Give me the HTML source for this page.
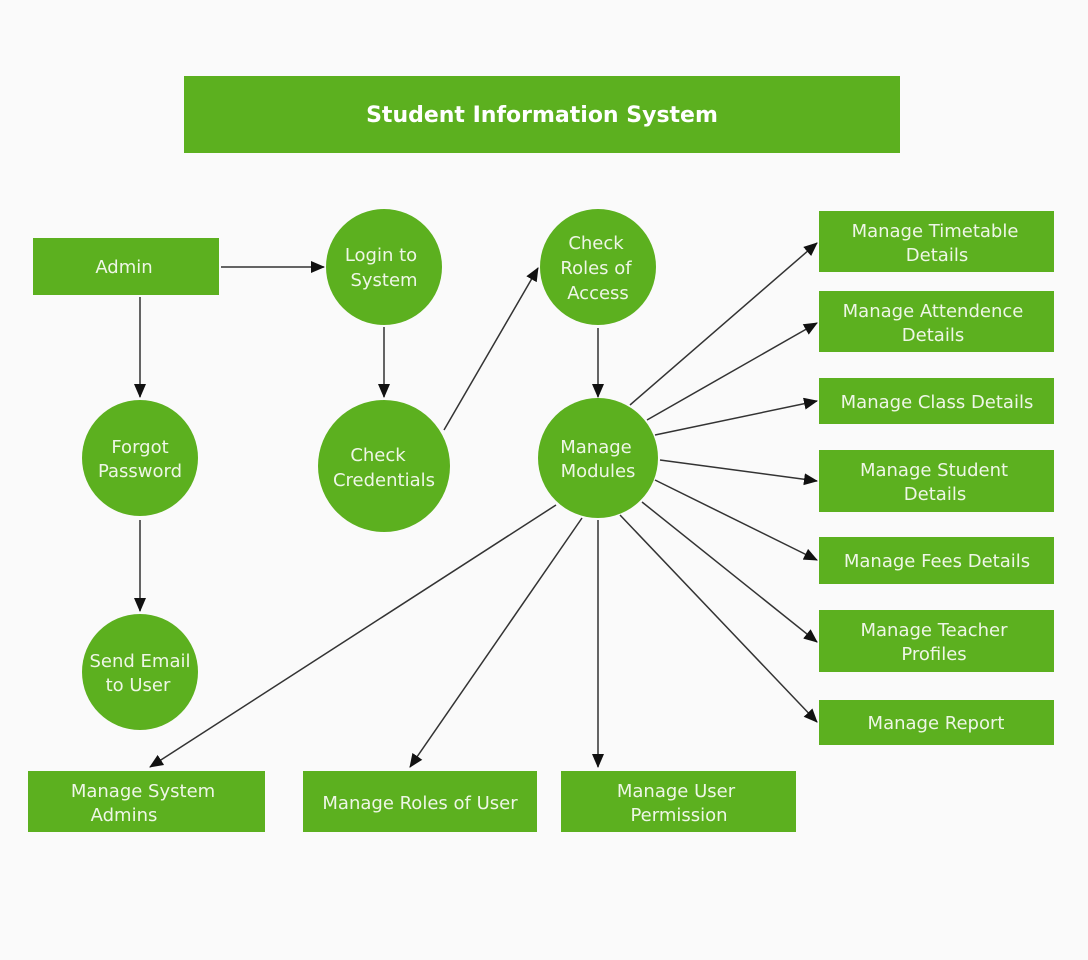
<!DOCTYPE html>
<html><head><meta charset="utf-8"><style>
html,body{margin:0;padding:0;background:#fafafa;}
svg{display:block;}
text{font-family:"DejaVu Sans","Liberation Sans",sans-serif;fill:#eef6e6;font-size:18px;text-anchor:middle;}
</style></head><body>
<svg width="1088" height="960" viewBox="0 0 1088 960" xmlns="http://www.w3.org/2000/svg">
<defs><marker id="a" markerWidth="14" markerHeight="12" refX="13" refY="6" orient="auto" markerUnits="userSpaceOnUse"><path d="M0,0 L14,6 L0,12 z" fill="#111"/></marker></defs>
<g fill="#5cb01f">
<rect x="184" y="76" width="716" height="77"/>
<rect x="33" y="238" width="186" height="57"/>
<circle cx="384" cy="267" r="58"/>
<circle cx="598" cy="267" r="58"/>
<circle cx="140" cy="458" r="58"/>
<circle cx="384" cy="466" r="66"/>
<circle cx="598" cy="458" r="60"/>
<circle cx="140" cy="672" r="58"/>
<rect x="819" y="211" width="235" height="61"/>
<rect x="819" y="291" width="235" height="61"/>
<rect x="819" y="378" width="235" height="46"/>
<rect x="819" y="450" width="235" height="62"/>
<rect x="819" y="537" width="235" height="47"/>
<rect x="819" y="610" width="235" height="62"/>
<rect x="819" y="700" width="235" height="45"/>
<rect x="28" y="771" width="237" height="61"/>
<rect x="303" y="771" width="234" height="61"/>
<rect x="561" y="771" width="235" height="61"/>
</g>
<g stroke="#333" stroke-width="1.5" marker-end="url(#a)">
<line x1="221" y1="267" x2="324" y2="267"/>
<line x1="140" y1="297" x2="140" y2="397"/>
<line x1="384" y1="327" x2="384" y2="397"/>
<line x1="444" y1="430" x2="538" y2="268"/>
<line x1="598" y1="328" x2="598" y2="397"/>
<line x1="140" y1="520" x2="140" y2="611"/>
<line x1="630" y1="405" x2="817" y2="243"/>
<line x1="647" y1="420" x2="817" y2="323"/>
<line x1="655" y1="435" x2="817" y2="401"/>
<line x1="660" y1="460" x2="817" y2="481"/>
<line x1="655" y1="480" x2="817" y2="560"/>
<line x1="642" y1="502" x2="817" y2="642"/>
<line x1="620" y1="515" x2="817" y2="722"/>
<line x1="556" y1="505" x2="150" y2="767"/>
<line x1="582" y1="518" x2="410" y2="767"/>
<line x1="598" y1="520" x2="598" y2="767"/>
</g>
<text x="542" y="122" style="font-weight:bold;font-size:22px;fill:#fff">Student Information System</text>
<text x="124" y="273">Admin</text>
<text x="381" y="261">Login to</text><text x="384" y="286">System</text>
<text x="596" y="249">Check</text><text x="596" y="274">Roles of</text><text x="598" y="299">Access</text>
<text x="140" y="453">Forgot</text><text x="140" y="477">Password</text>
<text x="378" y="461">Check</text><text x="384" y="486">Credentials</text>
<text x="596" y="453">Manage</text><text x="598" y="477">Modules</text>
<text x="140" y="667">Send Email</text><text x="138" y="691">to User</text>
<text x="935" y="237">Manage Timetable</text><text x="937" y="261">Details</text>
<text x="933" y="317">Manage Attendence</text><text x="933" y="341">Details</text>
<text x="937" y="408">Manage Class Details</text>
<text x="934" y="476">Manage Student</text><text x="935" y="500">Details</text>
<text x="937" y="567">Manage Fees Details</text>
<text x="934" y="636">Manage Teacher</text><text x="934" y="660">Profiles</text>
<text x="936" y="729">Manage Report</text>
<text x="143" y="797">Manage System</text><text x="124" y="821">Admins</text>
<text x="420" y="809">Manage Roles of User</text>
<text x="676" y="797">Manage User</text><text x="679" y="821">Permission</text>
</svg>
</body></html>
